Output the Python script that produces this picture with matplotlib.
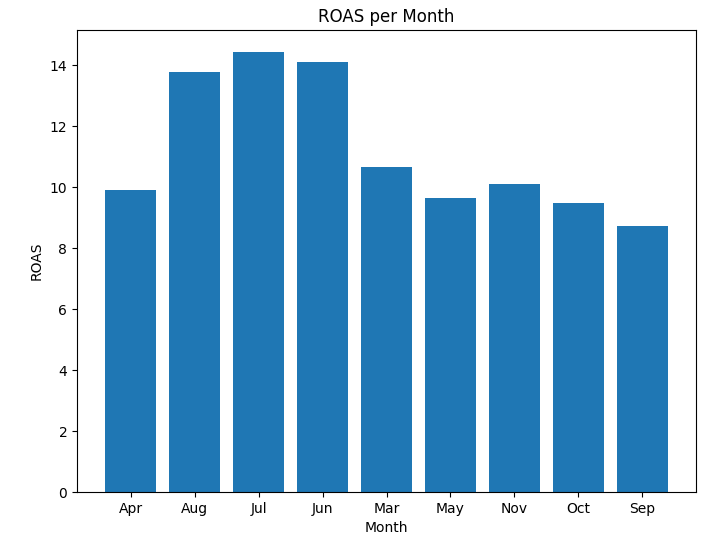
import matplotlib
matplotlib.use('Agg')
import matplotlib.pyplot as plt

# 月份和对应的ROAS
months = ['Apr', 'Aug', 'Jul', 'Jun', 'Mar', 'May', 'Nov', 'Oct', 'Sep']
roas = [9.90, 13.77, 14.43, 14.10, 10.66, 9.64, 10.10, 9.48, 8.72]

fig = plt.figure(figsize=(7.28, 5.56), dpi=100)
ax = fig.add_axes([77 / 728, 64 / 556, 619 / 728, 462 / 556])

ax.bar(months, roas, color='#1f77b4')
ax.set_title('ROAS per Month')
ax.set_xlabel('Month')
ax.set_ylabel('ROAS')

fig.savefig('out.png', dpi=100)
